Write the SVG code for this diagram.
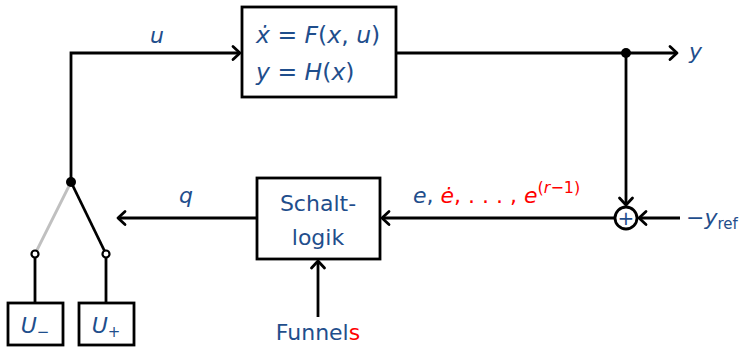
<svg xmlns="http://www.w3.org/2000/svg" width="749" height="348" viewBox="0 0 749 348">
<style>
.ln{fill:none;stroke:#000;stroke-width:2.8}
.box{fill:#fff;stroke:#000;stroke-width:2.8}
.t{font-family:"DejaVu Sans","Liberation Sans",sans-serif;fill:#1f4e8c}
.m{font-style:italic}
.r{fill:#ff0000}
</style>
<defs>
<marker id="ah" markerUnits="userSpaceOnUse" markerWidth="16" markerHeight="16" refX="0" refY="0" viewBox="-10 -8 12 16" orient="auto" overflow="visible">
<path d="M-7,-6.5 L0,0 L-7,6.5" fill="none" stroke="#000" stroke-width="2.8" stroke-linecap="round" stroke-linejoin="round"/>
</marker>
</defs>
<g id="connectors">
<path class="ln" d="M71,182 V53 H240" marker-end="url(#ah)"/>
<path class="ln" d="M396,53 H677" marker-end="url(#ah)"/>
<path class="ln" d="M626,53 V205" marker-end="url(#ah)"/>
<path class="ln" d="M680,218 H639" marker-end="url(#ah)"/>
<path class="ln" d="M614,218 H382" marker-end="url(#ah)"/>
<path class="ln" d="M257,218 H118" marker-end="url(#ah)"/>
<path class="ln" d="M318,317 V261" marker-end="url(#ah)"/>
<path d="M71,182 L35,254" fill="none" stroke="#c0c0c0" stroke-width="2.8"/>
<path class="ln" d="M71,182 L106,254"/>
<path class="ln" d="M35,254 V303"/>
<path class="ln" d="M106,254 V303"/>
<circle cx="71" cy="182" r="5" fill="#000"/>
<circle cx="626" cy="53" r="5" fill="#000"/>
<circle cx="35" cy="254" r="3.5" fill="#fff" stroke="#000" stroke-width="2.2"/>
<circle cx="106" cy="254" r="3.5" fill="#fff" stroke="#000" stroke-width="2.2"/>
<text class="t m" x="157" y="43" font-size="22" text-anchor="middle">u</text>
<text class="t m" x="689" y="59" font-size="22">y</text>
<text class="t m" x="186" y="203" font-size="22" text-anchor="middle">q</text>
<text class="t" x="413" y="203" font-size="22"><tspan class="m">e</tspan>, <tspan class="r m">ė</tspan><tspan class="r">, . . . , </tspan><tspan class="r m">e</tspan><tspan class="r" font-size="16" dy="-10">(<tspan class="m">r</tspan>−1)</tspan></text>
<text class="t" x="686" y="225" font-size="22">−<tspan class="m">y</tspan><tspan font-size="15" dy="4">ref</tspan></text>
</g>
<g id="sys">
<rect class="box" x="242" y="7" width="154" height="90"/>
<text class="t" x="256" y="43" font-size="23.5"><tspan class="m">ẋ</tspan> = <tspan class="m">F</tspan>(<tspan class="m">x</tspan>, <tspan class="m">u</tspan>)</text>
<text class="t" x="256" y="80" font-size="23.5"><tspan class="m">y</tspan> = <tspan class="m">H</tspan>(<tspan class="m">x</tspan>)</text>
</g>
<g id="sum">
<circle cx="626" cy="218" r="11" fill="#fff" stroke="#000" stroke-width="2.8"/>
<text class="t" x="626" y="225" font-size="20" text-anchor="middle">+</text>
</g>
<g id="logic">
<rect class="box" x="257" y="178" width="123" height="81"/>
<text class="t" x="318" y="211" font-size="22" text-anchor="middle">Schalt-</text>
<text class="t" x="318" y="245" font-size="22" text-anchor="middle">logik</text>
</g>
<g id="funnels">
<text class="t" x="318" y="340" font-size="22" text-anchor="middle">Funnel<tspan class="r">s</tspan></text>
</g>
<g id="uminus">
<rect class="box" x="8" y="303" width="55" height="42"/>
<text class="t" x="35" y="333" font-size="22" text-anchor="middle"><tspan class="m">U</tspan><tspan font-size="15" dy="4">−</tspan></text>
</g>
<g id="uplus">
<rect class="box" x="79" y="303" width="55" height="42"/>
<text class="t" x="106" y="333" font-size="22" text-anchor="middle"><tspan class="m">U</tspan><tspan font-size="15" dy="4">+</tspan></text>
</g>
</svg>
